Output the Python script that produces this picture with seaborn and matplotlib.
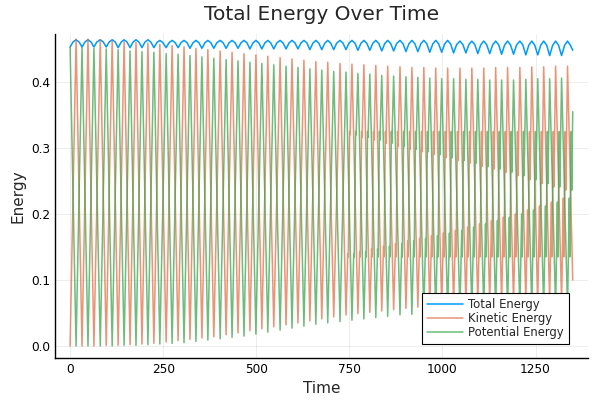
import numpy as np
import pandas as pd
import matplotlib
matplotlib.use("Agg")
import matplotlib.pyplot as plt
import seaborn as sns

# times of potential-energy maxima (= kinetic minima)
pe_peak_t = [0, 32, 64, 97, 129, 161, 193, 225, 258, 290, 322, 354, 386, 419, 451,
             483, 515, 547, 580, 612, 644, 676, 708, 741, 773, 805, 837, 869, 902,
             934, 966, 998, 1030, 1063, 1095, 1127, 1159, 1191, 1224, 1256, 1288,
             1320, 1352]
# times of kinetic-energy maxima (= potential minima)
ke_peak_t = [16, 48, 81, 113, 145, 177, 209, 241, 274, 306, 338, 370, 403, 435, 467,
             499, 531, 564, 596, 628, 660, 692, 725, 757, 789, 821, 853, 886, 918,
             950, 982, 1014, 1047, 1079, 1111, 1143, 1175, 1208, 1240, 1272, 1304,
             1336]

ke_peak = [0.465, 0.465, 0.464, 0.462, 0.461, 0.460, 0.459, 0.457, 0.455, 0.453,
           0.451, 0.449, 0.447, 0.445, 0.443, 0.441, 0.439, 0.437, 0.435, 0.433,
           0.431, 0.430, 0.428, 0.427, 0.426, 0.425, 0.424, 0.423, 0.422, 0.422,
           0.421, 0.421, 0.421, 0.421, 0.421, 0.422, 0.422, 0.422, 0.423, 0.423,
           0.424, 0.424]
ke_trough = [0.000, 0.000, 0.000, 0.001, 0.001, 0.002, 0.003, 0.004, 0.006, 0.008,
             0.010, 0.012, 0.014, 0.017, 0.020, 0.023, 0.026, 0.029, 0.032, 0.035,
             0.038, 0.041, 0.044, 0.047, 0.049, 0.051, 0.053, 0.055, 0.057, 0.059,
             0.060, 0.061, 0.062, 0.063, 0.064, 0.065, 0.066, 0.066, 0.067, 0.067,
             0.068, 0.068, 0.068]
pe_peak = [0.453, 0.452, 0.451, 0.450, 0.449, 0.447, 0.446, 0.445, 0.443, 0.442,
           0.440, 0.438, 0.436, 0.434, 0.432, 0.430, 0.428, 0.426, 0.424, 0.422,
           0.420, 0.418, 0.416, 0.415, 0.413, 0.412, 0.410, 0.409, 0.408, 0.407,
           0.406, 0.405, 0.405, 0.404, 0.404, 0.403, 0.403, 0.403, 0.404, 0.405,
           0.405, 0.406, 0.406]
pe_trough = [0.000, 0.000, 0.000, 0.000, 0.001, 0.001, 0.002, 0.003, 0.004, 0.005,
             0.007, 0.009, 0.011, 0.013, 0.015, 0.018, 0.021, 0.024, 0.027, 0.030,
             0.033, 0.035, 0.037, 0.039, 0.041, 0.043, 0.045, 0.047, 0.048, 0.049,
             0.050, 0.051, 0.052, 0.053, 0.054, 0.054, 0.055, 0.055, 0.056, 0.056,
             0.056, 0.056]

# total energy: dips at pe peaks, tops at ke peaks
total_dip = [0.453, 0.453, 0.453, 0.453, 0.452, 0.452, 0.452, 0.452, 0.452, 0.452,
             0.451, 0.451, 0.451, 0.451, 0.451, 0.450, 0.450, 0.450, 0.450, 0.450,
             0.449, 0.449, 0.449, 0.449, 0.448, 0.448, 0.447, 0.447, 0.446, 0.446,
             0.445, 0.445, 0.444, 0.444, 0.443, 0.443, 0.442, 0.442, 0.441, 0.441,
             0.440, 0.440, 0.440]
total_top = [0.464, 0.464, 0.464, 0.464, 0.464, 0.464, 0.464, 0.463, 0.463, 0.463,
             0.463, 0.463, 0.463, 0.463, 0.463, 0.463, 0.463, 0.463, 0.463, 0.463,
             0.463, 0.463, 0.463, 0.463, 0.463, 0.463, 0.463, 0.463, 0.463, 0.463,
             0.463, 0.463, 0.462, 0.462, 0.462, 0.462, 0.462, 0.462, 0.462, 0.462,
             0.462, 0.462]

# small wiggles in the later cycles (from cycle 23 on), on the rising side
kink_first_cycle = 23
kink_low_edge = 0.135
kink_high_edge = 0.325
kink_low_top = [0.140, 0.143, 0.147, 0.151, 0.155, 0.159, 0.163, 0.167, 0.171, 0.175,
                0.180, 0.185, 0.190, 0.195, 0.200, 0.206, 0.212, 0.218, 0.224, 0.226]
kink_high_bottom = [0.320, 0.316, 0.312, 0.307, 0.302, 0.298, 0.294, 0.290, 0.285,
                    0.281, 0.277, 0.272, 0.268, 0.263, 0.258, 0.252, 0.246, 0.241,
                    0.236, 0.234]

end_time = 1350
end_total = 0.448
end_ke = 0.10
end_pe = 0.355


def build(extreme_t, extreme_v, end_v):
    ts, vs = [extreme_t[0]], [extreme_v[0]]
    for j in range(len(extreme_t) - 1):
        t0, t1 = extreme_t[j], extreme_t[j + 1]
        v0, v1 = extreme_v[j], extreme_v[j + 1]
        k = j // 2
        if k >= kink_first_cycle and v1 > v0:
            lo = kink_low_top[k - kink_first_cycle]
            hi = kink_high_bottom[k - kink_first_cycle]
            mids = [lo, kink_low_edge, kink_high_edge, hi]
            for f, m in zip([0.3, 0.38, 0.62, 0.7], mids):
                ts.append(t0 + f * (t1 - t0))
                vs.append(m)
        ts.append(t1)
        vs.append(v1)
    ts, vs = np.array(ts), np.array(vs)
    keep = ts < end_time
    return np.append(ts[keep], end_time), np.append(vs[keep], end_v)


# interleave the extremes
ev_t, ke_v, pe_v = [], [], []
for k in range(len(pe_peak_t)):
    ev_t.append(pe_peak_t[k])
    ke_v.append(ke_trough[k])
    pe_v.append(pe_peak[k])
    if k < len(ke_peak_t):
        ev_t.append(ke_peak_t[k])
        ke_v.append(ke_peak[k])
        pe_v.append(pe_trough[k])

ke_t, ke_y = build(ev_t, ke_v, end_ke)
pe_t, pe_y = build(ev_t, pe_v, end_pe)

tot_t, tot_y = [], []
for k in range(len(pe_peak_t)):
    tot_t.append(pe_peak_t[k])
    tot_y.append(total_dip[k])
    if k < len(ke_peak_t):
        top = total_top[k]
        sh = top - 0.3 * (top - total_dip[k])
        tot_t += [pe_peak_t[k] + 8, ke_peak_t[k], ke_peak_t[k] + 8]
        tot_y += [sh, top, sh]
tot_t, tot_y = np.array(tot_t), np.array(tot_y)
keep = tot_t < end_time
tot_t = np.append(tot_t[keep], end_time)
tot_y = np.append(tot_y[keep], end_total)

total_df = pd.DataFrame({"Time": tot_t, "Energy": tot_y})
ke_df = pd.DataFrame({"Time": ke_t, "Energy": ke_y})
pe_df = pd.DataFrame({"Time": pe_t, "Energy": pe_y})

sns.set_style("white")
plt.rcParams["font.family"] = ["DejaVu Sans"]

fig = plt.figure(figsize=(6, 4), dpi=100)
ax = fig.add_axes([0.0917, 0.105, 0.888, 0.81])

sns.lineplot(data=total_df, x="Time", y="Energy", ax=ax, color="#009AFA",
             linewidth=1.1, estimator=None, sort=False, label="Total Energy")
sns.lineplot(data=ke_df, x="Time", y="Energy", ax=ax, color="#E36F47", alpha=0.75,
             linewidth=1.1, estimator=None, sort=False, label="Kinetic Energy")
sns.lineplot(data=pe_df, x="Time", y="Energy", ax=ax, color="#3EA44E", alpha=0.75,
             linewidth=1.1, estimator=None, sort=False, label="Potential Energy")

ax.set_xlim(-40.5, 1390.5)
ax.set_ylim(-0.0182, 0.4727)
ax.set_xticks([0, 250, 500, 750, 1000, 1250])
ax.set_yticks([0.0, 0.1, 0.2, 0.3, 0.4])
ax.set_yticklabels(["0.0", "0.1", "0.2", "0.3", "0.4"])
ax.grid(True, color="black", alpha=0.1, linewidth=0.5)
ax.tick_params(direction="in", length=3, width=0.8, labelsize=8.7, colors="black")
for s in ["top", "right"]:
    ax.spines[s].set_visible(False)
for s in ["left", "bottom"]:
    ax.spines[s].set_color("black")
    ax.spines[s].set_linewidth(1.0)

ax.set_title("Total Energy Over Time", fontsize=14.5, pad=10)
ax.set_xlabel("Time", fontsize=11)
ax.set_ylabel("Energy", fontsize=11)

leg = ax.legend(loc="lower right", bbox_to_anchor=(0.964, 0.043), borderaxespad=0,
                fontsize=8.4, handlelength=3.1, handletextpad=0.45, labelspacing=0.1,
                borderpad=0.4, fancybox=False, framealpha=1, edgecolor="black")
leg.get_frame().set_linewidth(0.8)

fig.savefig("out.png", dpi=100)
